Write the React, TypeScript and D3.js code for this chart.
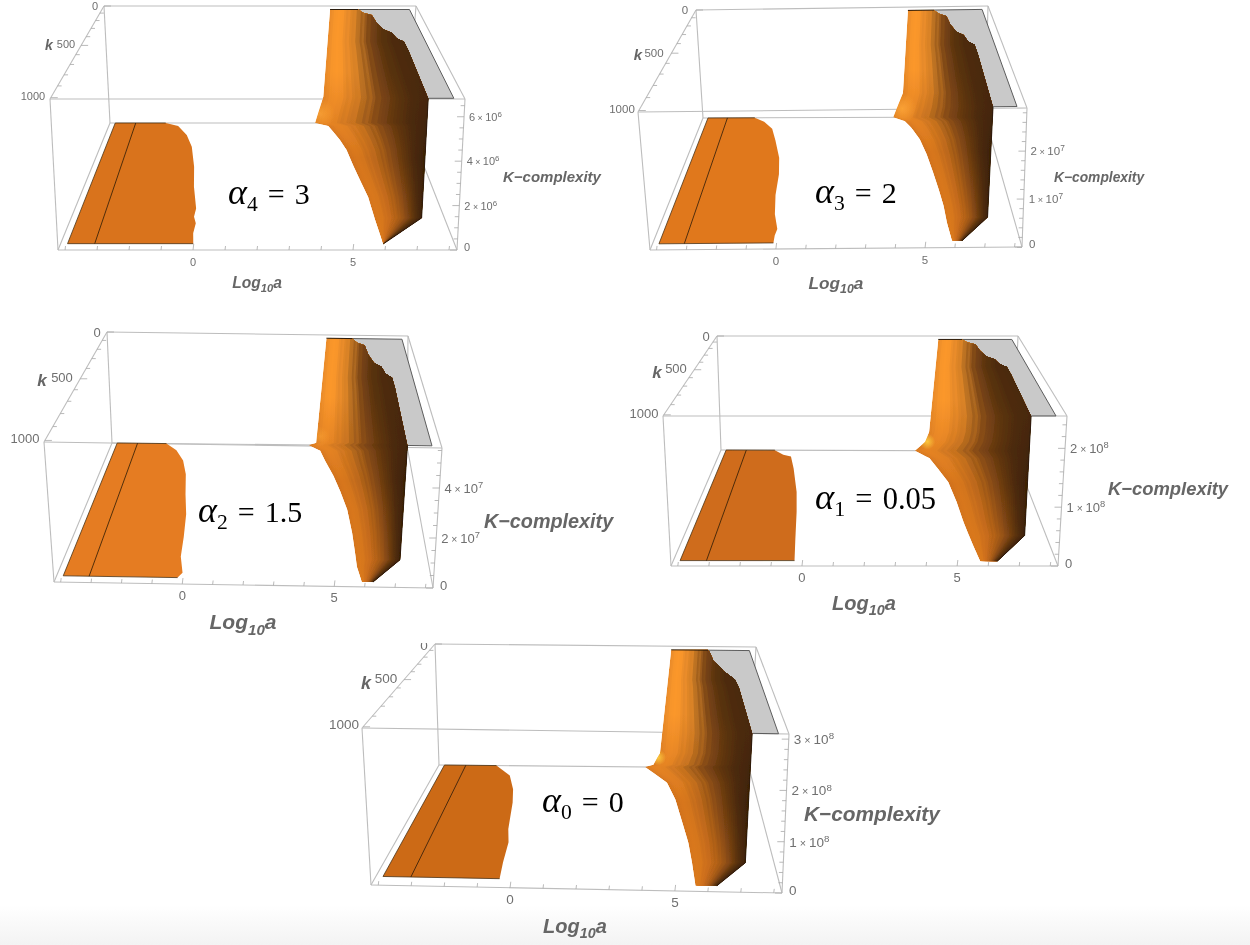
import { line, range, scaleLinear, interpolateRgb, ascending } from "d3";

const WIDTH = 1250;
const HEIGHT = 945;

// axis ranges shared by all five plots
const LOG_A_DOMAIN = [-4.22, 8.25];
const K_DOMAIN = [0, 1011];
const PLATEAU = 0.97; // fraction of the box height where the grey cap sits
const LOG_A_TICKS = range(-4, 9);
const K_TICKS = range(0, 1001, 100);
const PATCH_LEFT = -4;
const PATCH_LINE = -3.14;
const PLATEAU_RIGHT = 8;

const ALPHA_INDEX = ["4", "3", "2", "1", "0"];
const ALPHA_VALUE = ["3", "2", "1.5", "0.05", "0"];
const Z_MAX = [6.8e6, 2.9e7, 5.6e7, 2.55e8, 3.1e8];
const Z_MINOR = [0.5e6, 0.2e7, 0.5e7, 0.2e8, 0.2e8];
const Z_LABELS = [
  [2e6, 4e6, 6e6],
  [1e7, 2e7],
  [2e7, 4e7],
  [1e8, 2e8],
  [1e8, 2e8, 3e8],
];
const Z_EXP = [6, 7, 7, 8, 8];

// left flat patch: right boundary, k -> log10 a
const PATCH_K = [
  [0, 32, 124, 238, 418, 580, 742, 800, 844, 908, 973],
  [0, 40, 108, 218, 370, 505, 660, 794, 890, 930, 975],
  [0, 60, 150, 266, 425, 571, 726, 850, 947, 975],
  [0, 53, 72, 200, 433, 606, 820, 975],
  [0, 40, 106, 243, 369, 596, 700, 844, 955],
];
const PATCH_LOG_A = [
  [-1.88, -1.33, -0.9, -0.61, -0.39, -0.28, -0.09, -0.12, -0.03, -0.07, -0.02],
  [-1.93, -1.47, -1.05, -0.8, -0.5, -0.38, -0.36, -0.25, -0.07, -0.12, -0.12],
  [-1.92, -1.42, -1.03, -0.78, -0.6, -0.4, -0.3, -0.25, -0.07, -0.2],
  [-1.92, -1.51, -1.17, -0.95, -0.64, -0.5, -0.37, -0.27],
  [-1.91, -1.65, -1.23, -0.92, -0.77, -0.62, -0.47, -0.45, -0.4],
];

// rising wall at k = 0: log10 a and height fraction
const WALL_LOG_A = [
  [4.82, 4.69, 4.39],
  [4.83, 4.62, 4.19],
  [4.87, 4.41, 4.08],
  [4.95, 4.65, 4.49, 4.06],
  [4.96, 4.65, 4.4, 4.06],
];
const WALL_HEIGHT = [
  [0.97, 0.225, 0],
  [0.97, 0.222, 0],
  [0.97, 0.02, 0],
  [0.97, 0.165, 0.078, 0],
  [0.97, 0.115, 0.02, 0],
];

// where the right surface meets the floor
const FLOOR_K = [
  [32, 91, 174, 270, 404, 526, 660, 822, 975],
  [40, 106, 214, 349, 500, 639, 745, 858, 971],
  [52, 141, 266, 387, 523, 684, 815, 895, 983],
  [87, 197, 334, 519, 688, 781, 867, 980],
  [61, 162, 321, 553, 682, 825, 974],
];
const FLOOR_LOG_A = [
  [4.92, 5.08, 5.29, 5.47, 5.59, 5.72, 5.87, 5.92, 5.99],
  [4.69, 4.95, 5.25, 5.46, 5.62, 5.75, 5.83, 5.86, 5.94],
  [4.58, 4.78, 5.1, 5.34, 5.57, 5.7, 5.76, 5.79, 5.92],
  [4.64, 4.91, 5.23, 5.4, 5.5, 5.58, 5.66, 5.78],
  [4.39, 4.92, 5.2, 5.42, 5.54, 5.6, 5.64],
];

// where the right surface meets the grey cap
const CAP_K = [0, 45, 77, 180, 265, 307, 374, 414, 508, 968];
const CAP_LOG_A = [5.95, 6.11, 6.41, 6.49, 6.65, 6.91, 7.01, 7.23, 7.25, 7.22];
const CAP_K_ZERO = [0, 25, 159, 230, 293, 405, 500, 968];
const CAP_LOG_A_ZERO = [6.39, 6.44, 6.52, 6.7, 6.8, 7.14, 7.2, 7.22];
const CAP_KNEE_K = 400;

// lower right corner of the surface, on the floor
const EDGE_K = [
  [808, 975],
  [824, 971],
  [850, 983],
  [795, 980],
  [819, 974],
];
const EDGE_LOG_A = [
  [7.49, 5.99],
  [7.33, 6.28],
  [7.29, 6.29],
  [7.51, 6.33],
  [7.32, 6.3],
];

const SHADE_STOPS = [0, 0.12, 0.3, 0.42, 0.55, 0.7, 0.85, 1];
const SHADE_TOP = ["#e88a28", "#ff9a2d", "#e08628", "#b56e22", "#7a4516", "#5a3310", "#4e2b0c", "#4a290a"];
const SHADE_MID = ["#d0701c", "#d9781e", "#c06a1a", "#a85e18", "#8a4c14", "#66380f", "#4a290a", "#3d2206"];
const SHADE_LOW = ["#d9781e", "#da7a1e", "#cf6f1c", "#c2681a", "#b0601a", "#8d4d14", "#5f3510", "#3e2206"];
const STREAKS = [0, 0, 0.01, -0.01, 0.02, 0, -0.02, 0.01, 0.03, -0.02, 0.01, 0, -0.03, 0.02, 0, 0.03, -0.02, 0, 0.02, -0.01, 0.01, 0, -0.01, 0.01, 0, 0, 0, 0, 0, 0, 0, 0, 0, 0, 0, 0];

// layout of each plot: box corners in page pixels and label places
const LAYOUT = [
  {
    topBack: [[104, 6], [416, 6]], topFront: [[50, 99], [465, 99]],
    floorBack: [[110, 123], [407, 123]], floorFront: [[58, 250], [457, 250]],
    patch: "#d9731a", tickFont: 11,
    kLabels: [[95, 6], [66, 44], [33, 96]], kTitle: [49, 45, 14],
    logTitle: [257, 283, 15.6], zTitle: [503, 182, 15],
    alpha: [228, 204, 30], highlight: ["#ffa838", 15, 0.7],
  },
  {
    topBack: [[696, 10], [988, 6]], topFront: [[638, 112], [1027, 108]],
    floorBack: [[703, 118], [985, 117]], floorFront: [[650, 250], [1022, 247]],
    patch: "#e0781e", tickFont: 11.5,
    kLabels: [[685, 10], [654, 53], [622, 109]], kTitle: [638, 55, 15],
    logTitle: [836, 284, 17.2], zTitle: [1054, 182, 13.8],
    alpha: [815, 203, 30], highlight: ["#ffa838", 15, 0.8],
  },
  {
    topBack: [[107, 332], [408, 336]], topFront: [[44, 442], [442, 448]],
    floorBack: [[112, 443], [407, 446]], floorFront: [[54, 582], [433, 588]],
    patch: "#e57c20", tickFont: 13,
    kLabels: [[97, 332], [62, 377], [25, 438]], kTitle: [42, 380, 17],
    logTitle: [243, 623, 21], zTitle: [484, 528, 19.8],
    alpha: [198, 522, 30], highlight: ["#ffa838", 10, 0.5],
  },
  {
    topBack: [[717, 336], [1018, 336]], topFront: [[663, 416], [1067, 416]],
    floorBack: [[721, 450], [1013, 451]], floorFront: [[671, 566], [1058, 566]],
    patch: "#cf6c1a", tickFont: 13,
    kLabels: [[706, 336], [676, 368], [644, 413]], kTitle: [657, 372, 17],
    logTitle: [864, 604, 20], zTitle: [1108, 495, 18.4],
    alpha: [815, 509, 30.5], highlight: ["#ffd040", 8, 0.9],
  },
  {
    topBack: [[435, 644], [756, 647]], topFront: [[362, 728], [789, 734]],
    floorBack: [[439, 765], [749, 768]], floorFront: [[371, 885], [782, 893]],
    patch: "#cc6a18", tickFont: 13.5,
    kLabels: [[424, 645], [386, 678], [344, 724]], kTitle: [366, 683, 18],
    logTitle: [575, 927, 20], zTitle: [804, 821, 20.8],
    alpha: [542, 812, 30], highlight: ["#ffd040", 8, 0.9],
  },
];

const lerp = (a, b, t) => a + (b - a) * t;
const lerpPt = (a, b, t) => [lerp(a[0], b[0], t), lerp(a[1], b[1], t)];
const pathOf = line();
const logAScale = scaleLinear().domain(LOG_A_DOMAIN).range([0, 1]);
const kScale = scaleLinear().domain(K_DOMAIN).range([0, 1]);

function planePoint(back, front, u, t) {
  const r = (back[1][0] - back[0][0]) / (front[1][0] - front[0][0]);
  const s = (t * r) / (1 - t + t * r);
  return lerpPt(lerpPt(back[0], front[0], s), lerpPt(back[1], front[1], s), u);
}

function Panel({ index }) {
  const box = LAYOUT[index];
  const zMax = Z_MAX[index];
  const zScale = scaleLinear().domain([0, zMax]).range([0, 1]);
  const font = "'Liberation Sans', Arial, sans-serif";

  const project = (logA, k, z) => {
    const u = logAScale(logA);
    const t = kScale(k);
    const low = planePoint(box.floorBack, box.floorFront, u, t);
    const high = planePoint(box.topBack, box.topFront, u, t);
    return lerpPt(low, high, zScale(z));
  };
  const capZ = PLATEAU * zMax;

  const capK = index === 4 ? CAP_K_ZERO : CAP_K;
  const capLogA = index === 4 ? CAP_LOG_A_ZERO : CAP_LOG_A;
  const capCurve = capK.map((k, i) => project(capLogA[i], k, capZ));

  const plateau = [
    ...capCurve,
    project(PLATEAU_RIGHT, capK[capK.length - 1], capZ),
    project(PLATEAU_RIGHT, 0, capZ),
  ];
  const plateauEdge = [
    project(capLogA[0], 0, capZ),
    project(PLATEAU_RIGHT, 0, capZ),
    project(PLATEAU_RIGHT, capK[capK.length - 1], capZ),
    project(capLogA[capLogA.length - 1], capK[capK.length - 1], capZ),
  ];

  const patchK = PATCH_K[index];
  const patchEnd = patchK[patchK.length - 1];
  const patchEdge = patchK.map((k, i) => project(PATCH_LOG_A[index][i], k, 0));
  const patch = [project(PATCH_LEFT, 0, 0), ...patchEdge, project(PATCH_LEFT, patchEnd, 0)];
  const patchLine = [project(PATCH_LINE, 0, 0), project(PATCH_LINE, patchEnd, 0)];

  // surface outline, split into the left and right side, both running down the page
  const leftSide = [
    ...WALL_LOG_A[index].map((a, i) => project(a, 0, WALL_HEIGHT[index][i] * zMax)),
    ...FLOOR_K[index].map((k, i) => project(FLOOR_LOG_A[index][i], k, 0)),
  ].sort((a, b) => ascending(a[1], b[1]));
  const edge = EDGE_K[index].map((k, i) => project(EDGE_LOG_A[index][i], k, 0));
  const rightSide = [...capCurve, ...edge].sort((a, b) => ascending(a[1], b[1]));

  const allY = [...leftSide, ...rightSide].map((p) => p[1]);
  const yMin = Math.min(...allY);
  const yMax = Math.max(...allY);
  const rows = [...allY, ...range(yMin, yMax, 3)].sort(ascending);
  const xLeft = scaleLinear().domain(leftSide.map((p) => p[1])).range(leftSide.map((p) => p[0])).clamp(true);
  const xRight = scaleLinear().domain(rightSide.map((p) => p[1])).range(rightSide.map((p) => p[0])).clamp(true);
  const outline = [
    ...rows.map((y) => [xLeft(y), y]),
    ...rows.map((y) => [xRight(y), y]).reverse(),
  ];

  // colour bands stay upright above the knee of the cap curve, the outline clips them
  const knee = capCurve[capK.findIndex((k) => k >= CAP_KNEE_K)];
  const xBand = (y) => (y < knee[1] ? knee[0] : xRight(y));
  const column = (f) => rows.map((y) => [lerp(xLeft(y), xBand(y), f), y]);

  const shade = (colors) =>
    scaleLinear().domain(SHADE_STOPS).range(colors).interpolate(interpolateRgb).clamp(true);
  const shadeTop = shade(SHADE_TOP);
  const shadeMid = shade(SHADE_MID);
  const shadeLow = shade(SHADE_LOW);

  const wallFoot = project(WALL_LOG_A[index][WALL_LOG_A[index].length - 1], 0, 0);
  const glow = project(4.58, 0, 0.08 * zMax);
  const midOffset = (wallFoot[1] - yMin) / (yMax - yMin);
  const lastColumn = column(1).reverse();

  // each strip runs to the right side and the next one paints over it, so no seams show
  const strips = STREAKS.map((streak, i) => {
    const f0 = i / STREAKS.length;
    const f = (i + 0.5) / STREAKS.length + streak;
    return {
      id: `strip-${index}-${i}`,
      d: pathOf([...column(f0), ...lastColumn]) + "Z",
      top: shadeTop(f),
      mid: shadeMid(f),
      low: shadeLow(f),
    };
  });

  const boxLines = [
    [box.topBack[0], box.topBack[1]],
    [box.topBack[0], box.floorBack[0]],
    [box.topBack[1], box.floorBack[1]],
    [box.floorBack[0], box.floorBack[1]],
    [box.topBack[0], box.topFront[0]],
    [box.topBack[1], box.topFront[1]],
    [box.topFront[0], box.topFront[1]],
    [box.topFront[0], box.floorFront[0]],
    [box.topFront[1], box.floorFront[1]],
    [box.floorFront[0], box.floorFront[1]],
    [box.floorBack[0], box.floorFront[0]],
    [box.floorBack[1], box.floorFront[1]],
  ];

  const zTicks = range(0, zMax, Z_MINOR[index]);
  const exp = Z_EXP[index];

  return (
    <g>
      <defs>
        <clipPath id={`surface-${index}`}>
          <path d={pathOf(outline) + "Z"} />
        </clipPath>
        <radialGradient id={`glow-${index}`}>
          <stop offset="0%" stopColor={box.highlight[0]} stopOpacity={box.highlight[2]} />
          <stop offset="100%" stopColor={box.highlight[0]} stopOpacity="0" />
        </radialGradient>
        {strips.map((strip) => (
          <linearGradient key={strip.id} id={strip.id} gradientUnits="userSpaceOnUse" x1="0" x2="0" y1={yMin} y2={yMax}>
            <stop offset="0" stopColor={strip.top} />
            <stop offset={midOffset * 0.55} stopColor={strip.top} />
            <stop offset={midOffset + 0.15} stopColor={strip.mid} />
            <stop offset="1" stopColor={strip.low} />
          </linearGradient>
        ))}
      </defs>

      <g stroke="#bdbdbd" strokeWidth="1.1" fill="none">
        {boxLines.map((pts, i) => (
          <path key={i} d={pathOf(pts)} />
        ))}
      </g>

      {/* axis ticks */}
      <g stroke="#a8a8a8" strokeWidth="0.8">
        {LOG_A_TICKS.map((tick) => {
          const [x, y] = project(tick, K_DOMAIN[1], 0);
          const size = tick % 5 === 0 ? 6 : 4;
          return <line key={tick} x1={x} x2={x + size * 0.12} y1={y} y2={y - size} />;
        })}
        {K_TICKS.map((tick) => {
          const [x, y] = project(LOG_A_DOMAIN[0], tick, zMax);
          return <line key={tick} x1={x} x2={x + (tick % 500 === 0 ? 7 : 4)} y1={y} y2={y} />;
        })}
        {zTicks.map((tick) => {
          const [x, y] = project(LOG_A_DOMAIN[1], K_DOMAIN[1], tick);
          const major = Z_LABELS[index].includes(tick) || tick === 0;
          return <line key={tick} x1={x} x2={x - (major ? 7 : 4)} y1={y} y2={y} />;
        })}
      </g>

      <g fill="#6f6f6f" fontFamily={font} fontSize={box.tickFont} textAnchor="middle">
        {[0, 5].map((tick) => {
          const [x, y] = project(tick, K_DOMAIN[1], 0);
          return (
            <text key={tick} x={x} y={y + 16}>
              {tick}
            </text>
          );
        })}
        {[0, 500, 1000].map((tick, i) => (
          <text key={tick} x={box.kLabels[i][0]} y={box.kLabels[i][1] + box.tickFont * 0.36}>
            {tick}
          </text>
        ))}
      </g>
      <g fill="#6f6f6f" fontFamily={font} fontSize={box.tickFont}>
        {Z_LABELS[index].map((tick) => {
          const [x, y] = project(LOG_A_DOMAIN[1], K_DOMAIN[1], tick);
          return (
            <text key={tick} x={x + 5} y={y + box.tickFont * 0.36}>
              {tick / 10 ** exp}
              <tspan fontSize={box.tickFont * 0.8}> × </tspan>
              10
              <tspan dy={-box.tickFont * 0.35} fontSize={box.tickFont * 0.72}>
                {exp}
              </tspan>
            </text>
          );
        })}
        <text x={box.floorFront[1][0] + 7} y={box.floorFront[1][1] - 3 + box.tickFont * 0.36}>
          0
        </text>
      </g>

      <g fill="#666" fontFamily={font} fontWeight="bold" fontStyle="italic">
        <text x={box.kTitle[0]} y={box.kTitle[1] + box.kTitle[2] * 0.36} fontSize={box.kTitle[2]} textAnchor="middle">
          k
        </text>
        <text x={box.logTitle[0]} y={box.logTitle[1] + box.logTitle[2] * 0.3} fontSize={box.logTitle[2]} textAnchor="middle">
          Log
          <tspan dy={box.logTitle[2] * 0.25} fontSize={box.logTitle[2] * 0.72}>
            10
          </tspan>
          <tspan dy={-box.logTitle[2] * 0.25}>a</tspan>
        </text>
        <text x={box.zTitle[0]} y={box.zTitle[1]} fontSize={box.zTitle[2]}>
          K−complexity
        </text>
      </g>

      {/* grey cap */}
      <path d={pathOf(plateau) + "Z"} fill="#c9c9c9" />
      <path d={pathOf(plateauEdge)} fill="none" stroke="#5c5c5c" strokeWidth="1" />

      {/* left flat patch */}
      <path d={pathOf(patch) + "Z"} fill={box.patch} />
      <path
        d={pathOf([patchEdge[0], patch[0], patch[patch.length - 1], patchEdge[patchEdge.length - 1]])}
        fill="none"
        stroke="#4a3418"
        strokeWidth="0.8"
      />
      <path d={pathOf(patchLine)} fill="none" stroke="#2c1a08" strokeWidth="0.8" />

      {/* right surface, coloured in strips from the light wall to the dark edge */}
      <g clipPath={`url(#surface-${index})`}>
        {strips.map((strip) => (
          <path key={strip.id} d={strip.d} fill={`url(#${strip.id})`} />
        ))}
        <circle cx={glow[0]} cy={glow[1]} r={box.highlight[1]} fill={`url(#glow-${index})`} />
      </g>
      <path
        d={pathOf([project(WALL_LOG_A[index][0], 0, capZ), capCurve[0]])}
        fill="none"
        stroke="#2a1a08"
        strokeWidth="1"
      />
      <path
        d={pathOf([capCurve[capCurve.length - 1], ...edge])}
        fill="none"
        stroke="#2a1a08"
        strokeWidth="0.9"
      />

      <text
        x={box.alpha[0]}
        y={box.alpha[1]}
        fontFamily="'Liberation Serif', 'Times New Roman', serif"
        fontSize={box.alpha[2]}
        fill="#000"
        style={{ wordSpacing: "2.5px" }}
      >
        <tspan fontStyle="italic" fontSize={box.alpha[2] * 1.2}>
          α
        </tspan>
        <tspan dy={box.alpha[2] * 0.22} fontSize={box.alpha[2] * 0.72}>
          {ALPHA_INDEX[index]}
        </tspan>
        <tspan dy={-box.alpha[2] * 0.22}> = {ALPHA_VALUE[index]}</tspan>
      </text>
    </g>
  );
}

export default function App() {
  return (
    <svg
      width={WIDTH}
      height={HEIGHT}
      viewBox={`0 0 ${WIDTH} ${HEIGHT}`}
      style={{ position: "absolute", left: 0, top: 0, display: "block", background: "#fff" }}
    >
      <defs>
        <linearGradient id="page-foot" x1="0" x2="0" y1="0" y2="1">
          <stop offset="0" stopColor="#ffffff" />
          <stop offset="1" stopColor="#f3f3f3" />
        </linearGradient>
        <filter id="soften" x="0" y="0" width="100%" height="100%">
          <feGaussianBlur stdDeviation="0.4" />
        </filter>
      </defs>
      <rect x="0" y="905" width={WIDTH} height="40" fill="url(#page-foot)" />
      <g filter="url(#soften)">
        {LAYOUT.map((_, index) => (
          <Panel key={index} index={index} />
        ))}
        {/* the top of the last plot's 0 label is cut off in the source image */}
        <rect x="415" y="630" width="20" height="13" fill="#fff" />
      </g>
    </svg>
  );
}
